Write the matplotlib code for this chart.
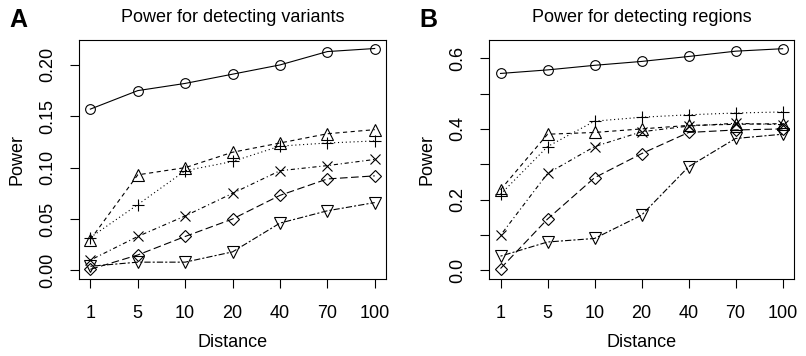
import numpy as np
import matplotlib
matplotlib.use("Agg")
import matplotlib.pyplot as plt

plt.rcParams['font.family'] = ['Liberation Sans', 'DejaVu Sans']
plt.rcParams['lines.scale_dashes'] = False

distances = ["1", "5", "10", "20", "40", "70", "100"]

# panel A: power for detecting variants
var_circle = [0.157, 0.175, 0.182, 0.191, 0.200, 0.213, 0.216]
var_tri_up = [0.030, 0.093, 0.100, 0.115, 0.124, 0.133, 0.137]
var_plus = [0.032, 0.064, 0.097, 0.106, 0.121, 0.124, 0.126]
var_cross = [0.010, 0.033, 0.053, 0.075, 0.097, 0.102, 0.108]
var_diamond = [0.001, 0.015, 0.033, 0.050, 0.073, 0.089, 0.092]
var_tri_down = [0.004, 0.008, 0.008, 0.018, 0.046, 0.058, 0.066]

# panel B: power for detecting regions
reg_circle = [0.557, 0.567, 0.580, 0.591, 0.605, 0.620, 0.627]
reg_tri_up = [0.228, 0.385, 0.390, 0.400, 0.410, 0.413, 0.415]
reg_plus = [0.215, 0.350, 0.422, 0.433, 0.440, 0.445, 0.448]
reg_cross = [0.099, 0.274, 0.350, 0.392, 0.408, 0.416, 0.412]
reg_diamond = [0.005, 0.145, 0.262, 0.330, 0.390, 0.397, 0.400]
reg_tri_down = [0.040, 0.080, 0.090, 0.156, 0.293, 0.373, 0.385]

styles = [
    ('o', '-', 7),
    ('^', (0, (3, 2.5)), 8),
    ('+', (0, (0.8, 2)), 8.5),
    ('x', (0, (0.8, 2, 3, 2)), 7),
    ('D', (0, (5.5, 2.5)), 6.5),
    ('v', (0, (1.5, 1.5, 4.5, 1.5)), 8),
]

fig = plt.figure(figsize=(8.06, 3.56), dpi=100)
axA = fig.add_axes([0.098, 0.216, 0.381, 0.672])
axB = fig.add_axes([0.607, 0.216, 0.378, 0.672])

x = np.arange(1, len(distances) + 1)


def draw(ax, series, title, ylim, yticks, ylabels):
    for vals, (mk, ls, ms) in zip(series, styles):
        ax.plot(x, vals, color='black', lw=0.8, linestyle=ls, marker=mk,
                markersize=ms, markerfacecolor='none', markeredgecolor='black',
                markeredgewidth=0.8)
    ax.set_xlim(0.76, 7.24)
    ax.set_ylim(*ylim)
    ax.set_xticks(x)
    ax.set_xticklabels(distances)
    ax.set_yticks(yticks)
    ax.set_yticklabels(ylabels, rotation=90, va='center')
    ax.tick_params(direction='out', length=6.5, width=0.8, labelsize=13)
    ax.tick_params(axis='x', pad=12)
    ax.tick_params(axis='y', pad=10)
    for sp in ax.spines.values():
        sp.set_linewidth(0.8)
    ax.set_xlabel("Distance", fontsize=13, labelpad=9)
    ax.set_ylabel("Power", fontsize=13, labelpad=10)
    ax.set_title(title, fontsize=13, pad=13)


draw(axA, [var_circle, var_tri_up, var_plus, var_cross, var_diamond, var_tri_down],
     "Power for detecting variants", (-0.0085, 0.2244),
     [0, 0.05, 0.10, 0.15, 0.20], ["0.00", "0.05", "0.10", "0.15", "0.20"])
draw(axB, [reg_circle, reg_tri_up, reg_plus, reg_cross, reg_diamond, reg_tri_down],
     "Power for detecting regions", (-0.025, 0.652),
     [0, 0.1, 0.2, 0.3, 0.4, 0.5, 0.6], ["0.0", "", "0.2", "", "0.4", "", "0.6"])

fig.text(9 / 806, 1 - 8 / 356, "A", fontsize=18, fontweight='bold', va='top', ha='left')
fig.text(419 / 806, 1 - 8 / 356, "B", fontsize=18, fontweight='bold', va='top', ha='left')

fig.savefig("out.png", dpi=100)
